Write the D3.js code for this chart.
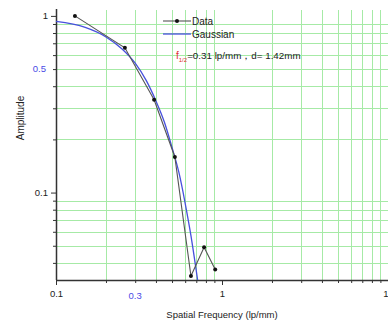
<!DOCTYPE html>
<html>
<head>
<meta charset="utf-8">
<script src="https://cdn.jsdelivr.net/npm/d3@7"></script>
<style>
  body { margin: 0; background: #fff; }
  svg { display: block; font-family: "Liberation Sans", Arial, sans-serif; }
</style>
</head>
<body>
<div id="chart"></div>
<script>
// measured MTF points
var freq = [0.13, 0.26, 0.39, 0.52, 0.65, 0.78, 0.91];
var amp = [1.0, 0.66, 0.335, 0.159, 0.0337, 0.049, 0.0367];

// gaussian fit
var gaussX = [0.1, 0.15, 0.2, 0.25, 0.3, 0.35, 0.4, 0.45, 0.5, 0.55, 0.6, 0.65, 0.7, 0.713];
var gaussY = [0.93, 0.86, 0.76, 0.65, 0.54, 0.43, 0.33, 0.25, 0.18, 0.13, 0.087, 0.057, 0.036, 0.032];

// ticks
var xMajor = [0.1, 1, 10];
var xMinor = [0.2, 0.3, 0.4, 0.5, 0.6, 0.7, 0.8, 0.9, 2, 3, 4, 5, 6, 7, 8, 9];
var yMajor = [0.1, 1];
var yMinor = [0.04, 0.05, 0.06, 0.07, 0.08, 0.09, 0.2, 0.3, 0.4, 0.5, 0.6, 0.7, 0.8, 0.9];
var xExtraLabels = [0.3];
var yExtraLabels = [0.5];

var W = 388, H = 320;
var plotLeft = 56, plotRight = 388, plotTop = 10, plotBottom = 280;

var svg = d3.select("#chart").append("svg")
    .attr("width", W)
    .attr("height", H);

var x = d3.scaleLog().domain([0.1, 10]).range([plotLeft, plotRight]);
var y = d3.scaleLog().domain([0.032, 1.08]).range([plotBottom, plotTop]);

// grid at the minor ticks
var grid = svg.append("g").attr("stroke", "#a6eaa6").attr("stroke-width", 1);
grid.selectAll(".gx").data(xMinor).enter().append("line")
    .attr("x1", function(d) { return Math.round(x(d)) + 0.5; })
    .attr("x2", function(d) { return Math.round(x(d)) + 0.5; })
    .attr("y1", plotTop).attr("y2", plotBottom);
grid.selectAll(".gy").data(yMinor).enter().append("line")
    .attr("y1", function(d) { return Math.round(y(d)) + 0.5; })
    .attr("y2", function(d) { return Math.round(y(d)) + 0.5; })
    .attr("x1", plotLeft).attr("x2", plotRight);

// axes
var xAxis = d3.axisBottom(x).tickValues(xMajor).tickSize(5).tickFormat(d3.format("~g"));
var xAxisMinor = d3.axisBottom(x).tickValues(xMinor).tickSize(3).tickFormat("");
var yAxis = d3.axisLeft(y).tickValues(yMajor).tickSize(5).tickFormat(d3.format("~g"));
var yAxisMinor = d3.axisLeft(y).tickValues(yMinor).tickSize(3).tickFormat("");

function styleAxis(g) {
  g.select(".domain").remove();
  g.selectAll("line").attr("stroke", "#333");
  g.selectAll("text").attr("fill", "#222").style("font-size", "9.5px").style("font-family", "Liberation Sans, Arial, sans-serif");
}

svg.append("g").attr("transform", "translate(0," + plotBottom + ")").call(xAxis).call(styleAxis)
  .selectAll("text").attr("dy", "0.95em");
svg.append("g").attr("transform", "translate(0," + plotBottom + ")").call(xAxisMinor).call(styleAxis);
svg.append("g").attr("transform", "translate(" + plotLeft + ",0)").call(yAxis).call(styleAxis);
svg.append("g").attr("transform", "translate(" + plotLeft + ",0)").call(yAxisMinor).call(styleAxis);

// axis lines
svg.append("line").attr("x1", plotLeft).attr("x2", plotRight).attr("y1", plotBottom + 0.5).attr("y2", plotBottom + 0.5)
    .attr("stroke", "#333").attr("stroke-width", 1.5);
svg.append("line").attr("x1", plotLeft + 0.5).attr("x2", plotLeft + 0.5).attr("y1", plotTop - 1).attr("y2", plotBottom)
    .attr("stroke", "#333").attr("stroke-width", 1.5);

// blue highlighted tick labels
svg.selectAll(".xl").data(xExtraLabels).enter().append("text")
    .attr("x", function(d) { return x(d); })
    .attr("y", plotBottom + 19)
    .attr("text-anchor", "middle")
    .attr("fill", "#4a4ae6")
    .style("font-size", "9.5px")
    .text(function(d) { return d; });
svg.selectAll(".yl").data(yExtraLabels).enter().append("text")
    .attr("x", plotLeft - 10)
    .attr("y", function(d) { return y(d); })
    .attr("dy", "0.32em")
    .attr("text-anchor", "end")
    .attr("fill", "#4a4ae6")
    .style("font-size", "9.5px")
    .text(function(d) { return d; });

// gaussian curve
var gaussLine = d3.line()
    .x(function(d) { return x(d[0]); })
    .y(function(d) { return y(d[1]); })
    .curve(d3.curveMonotoneX);
svg.append("path")
    .datum(gaussX.map(function(v, i) { return [v, gaussY[i]]; }))
    .attr("d", gaussLine)
    .attr("fill", "none")
    .attr("stroke", "#4750dd")
    .attr("stroke-width", 1.3);

// data line + dots
var dataPts = freq.map(function(v, i) { return [v, amp[i]]; });
svg.append("path")
    .datum(dataPts)
    .attr("d", d3.line().x(function(d) { return x(d[0]); }).y(function(d) { return y(d[1]); }))
    .attr("fill", "none")
    .attr("stroke", "#555")
    .attr("stroke-width", 1.1);
svg.selectAll(".dot").data(dataPts).enter().append("circle")
    .attr("cx", function(d) { return x(d[0]); })
    .attr("cy", function(d) { return y(d[1]); })
    .attr("r", 2)
    .attr("fill", "#111");

// legend
var legend = svg.append("g").attr("transform", "translate(163,21)");
legend.append("line").attr("x1", 0).attr("x2", 28).attr("y1", 0).attr("y2", 0).attr("stroke", "#555").attr("stroke-width", 1.1);
legend.append("circle").attr("cx", 14).attr("cy", 0).attr("r", 2).attr("fill", "#111");
legend.append("text").attr("x", 29).attr("y", 0).attr("dy", "0.35em").style("font-size", "10px").attr("fill", "#222").text("Data");
legend.append("line").attr("x1", 0).attr("x2", 28).attr("y1", 13).attr("y2", 13).attr("stroke", "#4750dd").attr("stroke-width", 1.3);
legend.append("text").attr("x", 29).attr("y", 13).attr("dy", "0.35em").style("font-size", "10px").attr("fill", "#222").text("Gaussian");

// annotation
var note = svg.append("text").attr("x", 176).attr("y", 59).style("font-size", "9.8px").attr("fill", "#222");
note.append("tspan").attr("fill", "#e03030").style("font-size", "10px").text("f");
note.append("tspan").attr("fill", "#e03030").style("font-size", "6px").attr("dy", 3).text("1/2");
note.append("tspan").attr("dy", -3).text("=0.31 lp/mm，d= 1.42mm");

// axis titles
svg.append("text")
    .attr("x", 222)
    .attr("y", 318)
    .attr("text-anchor", "middle")
    .style("font-size", "9.5px")
    .attr("fill", "#222")
    .text("Spatial Frequency (lp/mm)");
svg.append("text")
    .attr("transform", "translate(24,118) rotate(-90)")
    .attr("text-anchor", "middle")
    .style("font-size", "10px")
    .attr("fill", "#222")
    .text("Amplitude");
</script>
</body>
</html>
